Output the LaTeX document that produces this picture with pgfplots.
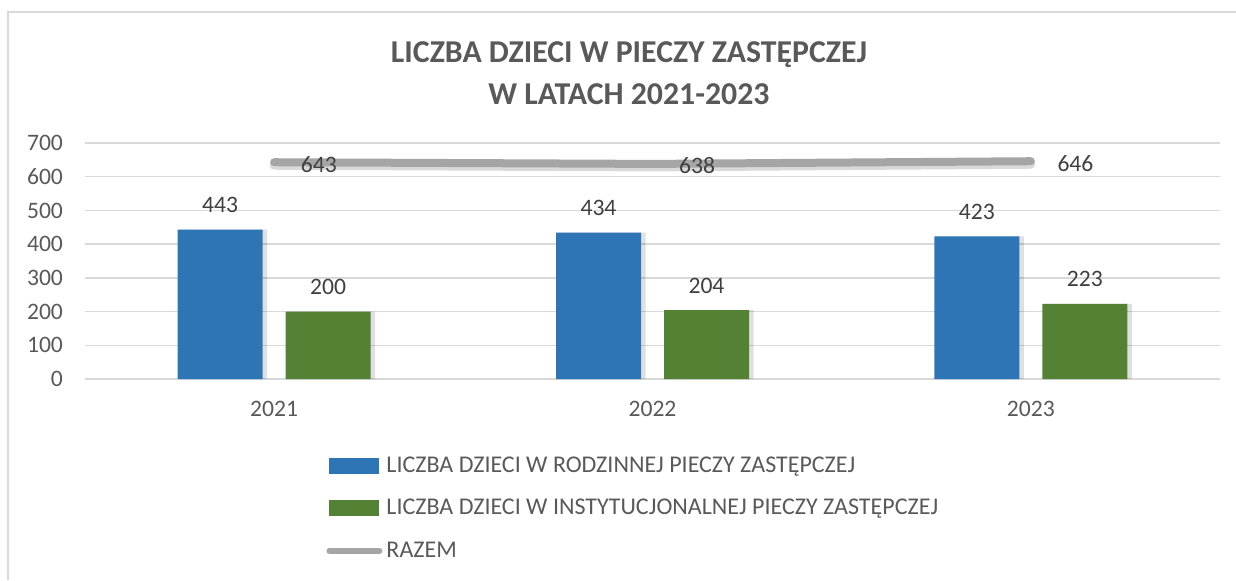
\documentclass[border=0pt]{standalone}
\usepackage{fontspec}
\setmainfont{Carlito}
\usepackage{pgfplots}
\pgfplotsset{compat=1.18}
\definecolor{cblue}{HTML}{2E75B6}
\definecolor{cgreen}{HTML}{548235}
\definecolor{cgray}{HTML}{A5A5A5}
\definecolor{txt}{HTML}{595959}
\definecolor{lbl}{HTML}{404040}
\definecolor{gridc}{HTML}{D9D9D9}
\tikzset{lab/.style={font=\fontsize{11.8}{14}\selectfont, text=lbl}}
\pgfplotsset{
    barlegend/.style={legend image code/.code={\fill[##1] (1pt,-4pt) rectangle (26pt,4pt);}},
    linelegend/.style={legend image code/.code={\draw[##1, line width=3pt] (1pt,0pt) -- (26pt,0pt);}},
}
\begin{document}
\begin{tikzpicture}
\useasboundingbox (0,0) rectangle (618pt,290pt);
% chart frame (left and top edges visible)
\draw[gridc, line width=0.8pt] (4pt,0) -- (4pt,284pt) -- (618pt,284pt);
% title
\node[font=\fontsize{15.9}{19}\selectfont\bfseries, text=txt] at (314.5pt,262.5pt) {LICZBA DZIECI W PIECZY ZASTĘPCZEJ};
\node[font=\fontsize{15.9}{19}\selectfont\bfseries, text=txt] at (314.5pt,243pt) {W LATACH 2021-2023};
\begin{axis}[
    at={(42.5pt,100.5pt)}, anchor=south west,
    scale only axis,
    width=567.5pt, height=118pt,
    xmin=-0.5, xmax=2.5,
    ymin=0, ymax=700,
    xtick={0,1,2},
    xticklabels={2021,2022,2023},
    ytick={0,100,...,700},
    axis line style={draw=none},
    major tick length=0pt,
    ymajorgrids,
    grid style={gridc, line width=0.7pt},
    ybar, bar width=42.5pt,
    /pgf/number format/assume math mode=true,
    tick label style={font=\fontsize{11.8}{14}\selectfont, text=txt},
    x tick label style={yshift=-7.5pt},
    y tick label style={xshift=-7.5pt},
    clip=false,
    legend style={
        at={(0.2124,-0.31)}, anchor=north west,
        draw=none, fill=none,
        font=\fontsize{12}{14}\selectfont, text=txt,
        row sep=8pt, inner sep=0pt,
        legend cell align=left,
    },
]
% soft shadows
\addplot[forget plot, bar shift=-25.5pt, bar width=44pt, fill=black, opacity=0.12, draw=none]
    coordinates {(0,443) (1,434) (2,423)};
\addplot[forget plot, bar shift=28.5pt, bar width=44pt, fill=black, opacity=0.12, draw=none]
    coordinates {(0,200) (1,204) (2,223)};
\addplot[forget plot, sharp plot, bar shift=0pt, color=black, opacity=0.15, line width=4.5pt, line cap=round,
    transform canvas={yshift=-1.5pt}]
    coordinates {(0,643) (1,638) (2,646)};
% data
\addplot[bar shift=-27pt, fill=cblue, draw=none, barlegend,
    nodes near coords,
    every node near coord/.append style={lab, yshift=5pt}]
    coordinates {(0,443) (1,434) (2,423)};
\addlegendentry{LICZBA DZIECI W RODZINNEJ PIECZY ZASTĘPCZEJ}
\addplot[bar shift=27pt, fill=cgreen, draw=none, barlegend,
    nodes near coords,
    every node near coord/.append style={lab, yshift=5pt}]
    coordinates {(0,200) (1,204) (2,223)};
\addlegendentry{LICZBA DZIECI W INSTYTUCJONALNEJ PIECZY ZASTĘPCZEJ}
\addplot[sharp plot, bar shift=0pt, color=cgray, line width=4pt, line cap=round, mark=none, linelegend,
    nodes near coords,
    every node near coord/.append style={lab, anchor=west, xshift=8pt, yshift=-1pt}]
    coordinates {(0,643) (1,638) (2,646)};
\addlegendentry{RAZEM}
\end{axis}
\end{tikzpicture}
\end{document}
